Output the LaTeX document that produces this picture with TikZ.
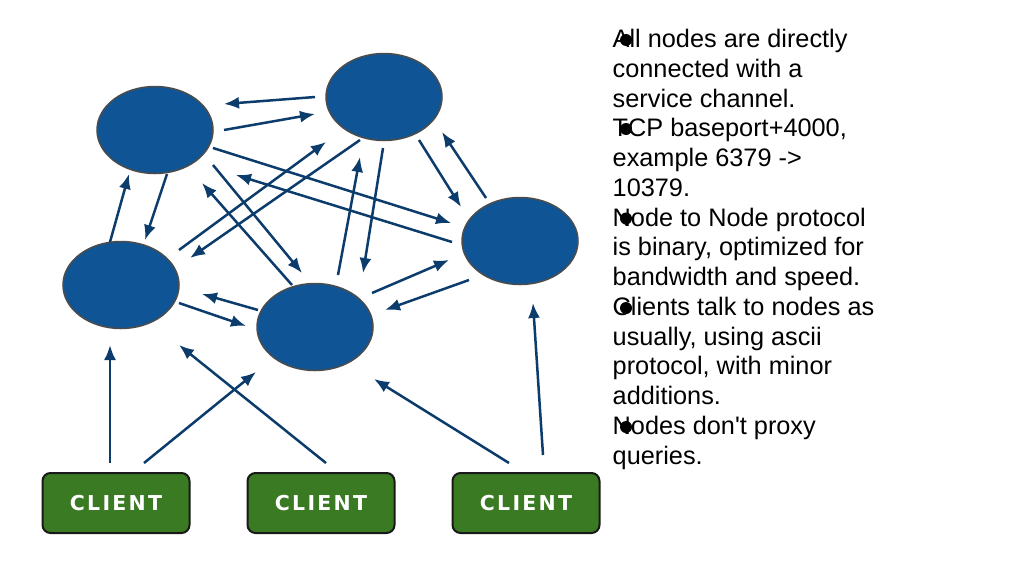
\documentclass[tikz,border=0pt]{standalone}
\usepackage{fontspec}
\setmainfont{Liberation Sans}
\newfontfamily\clientfont[LetterSpace=11]{DejaVu Sans}
\usetikzlibrary{arrows.meta,calc,shapes.geometric}
\definecolor{peerblue}{HTML}{0F5595}
\definecolor{linkblue}{HTML}{0C3C6C}
\definecolor{clientgreen}{HTML}{3A7A22}

\begin{document}
\begin{tikzpicture}[x=1pt,y=-1pt,
            peer/.style={ellipse,draw=black!70,line width=1.5pt,fill=peerblue,minimum width=116pt,minimum height=87pt,inner sep=0pt},
            client/.style={rectangle,rounded corners=8pt,draw=black!90,line width=2pt,fill=clientgreen,minimum width=147pt,minimum height=60pt,text=white,font=\clientfont\bfseries\fontsize{20.5}{20.5}\selectfont},
            link/.style={draw=linkblue,line width=2.5pt,-{Latex[length=15pt,width=12pt]}},
            note/.style={align=left,inner sep=0pt,font=\fontsize{25.3}{29.75}\selectfont}
          ]
          \path[fill=white,use as bounding box] (0,0) rectangle (1024,576);

          %cluster nodes
          \node[peer] (n1) at (155,130) {};
          \node[peer] (n2) at (384,97) {};
          \node[peer] (n3) at (121,285) {};
          \node[peer] (n4) at (315,327) {};
          \node[peer] (n5) at (520,241) {};

          %clients
          \node[client] (c1) at (116,503) {CLIENT};
          \node[client] (c2) at (321,503) {CLIENT};
          \node[client] (c3) at (526,503) {CLIENT};

          %service channel
          \draw[link] ($(n2)+(-69,0)$) -- ($(n1)+(69,-26)$);
          \draw[link] ($(n1)+(69,0)$) -- ($(n2)+(-69,17)$);
          \draw[link] ($(n3)+(-11,-43)$) -- ($(n1)+(-26,44)$);
          \draw[link] ($(n1)+(12,44)$) -- ($(n3)+(24,-45)$);
          \draw[link] ($(n1)+(58,18)$) -- ($(n5)+(-69,-18)$);
          \draw[link] ($(n5)+(-68,1)$) -- ($(n1)+(81,45)$);
          \draw[link] ($(n1)+(58,35)$) -- ($(n4)+(-13,-54)$);
          \draw[link] ($(n4)+(-23,-42)$) -- ($(n1)+(47,53)$);
          \draw[link] ($(n3)+(58,-35)$) -- ($(n2)+(-58,45)$);
          \draw[link] ($(n2)+(-24,43)$) -- ($(n3)+(69,-27)$);
          \draw[link] ($(n4)+(23,-52)$) -- ($(n2)+(-24,60)$);
          \draw[link] ($(n2)+(-1,51)$) -- ($(n4)+(48,-54)$);
          \draw[link] ($(n2)+(35,43)$) -- ($(n5)+(-59,-34)$);
          \draw[link] ($(n5)+(-34,-43)$) -- ($(n2)+(58,35)$);
          \draw[link] ($(n4)+(57,-34)$) -- ($(n5)+(-71,19)$);
          \draw[link] ($(n5)+(-51,39)$) -- ($(n4)+(70,-17)$);
          \draw[link] ($(n4)+(-57,-17)$) -- ($(n3)+(81,9)$);
          \draw[link] ($(n3)+(58,18)$) -- ($(n4)+(-69,-1)$);

          %client connections
          \draw[link] ($(c1)+(-6,-40)$) -- ($(n3)+(-11,60)$);
          \draw[link] ($(c1)+(28,-40)$) -- ($(n4)+(-59,45)$);
          \draw[link] ($(c2)+(5,-40)$) -- ($(n3)+(58,60)$);
          \draw[link] ($(c3)+(-17,-40)$) -- ($(n4)+(59,52)$);
          \draw[link] ($(c3)+(17,-48)$) -- ($(n5)+(13,62)$);

          %notes
          \node[note,anchor=base west] (notes) at (612.5,464) {All nodes are directly\\connected with a\\service channel.\\TCP baseport+4000,\\example 6379 ->\\10379.\\Node to Node protocol\\is binary, optimized for\\bandwidth and speed.\\Clients talk to nodes as\\usually, using ascii\\protocol, with minor\\additions.\\Nodes don\textquotesingle t proxy\\queries.};
          \foreach \y in {40,129,218.5,308,427}
            \fill (626,\y) circle[radius=6pt];

      \end{tikzpicture}
\end{document}
